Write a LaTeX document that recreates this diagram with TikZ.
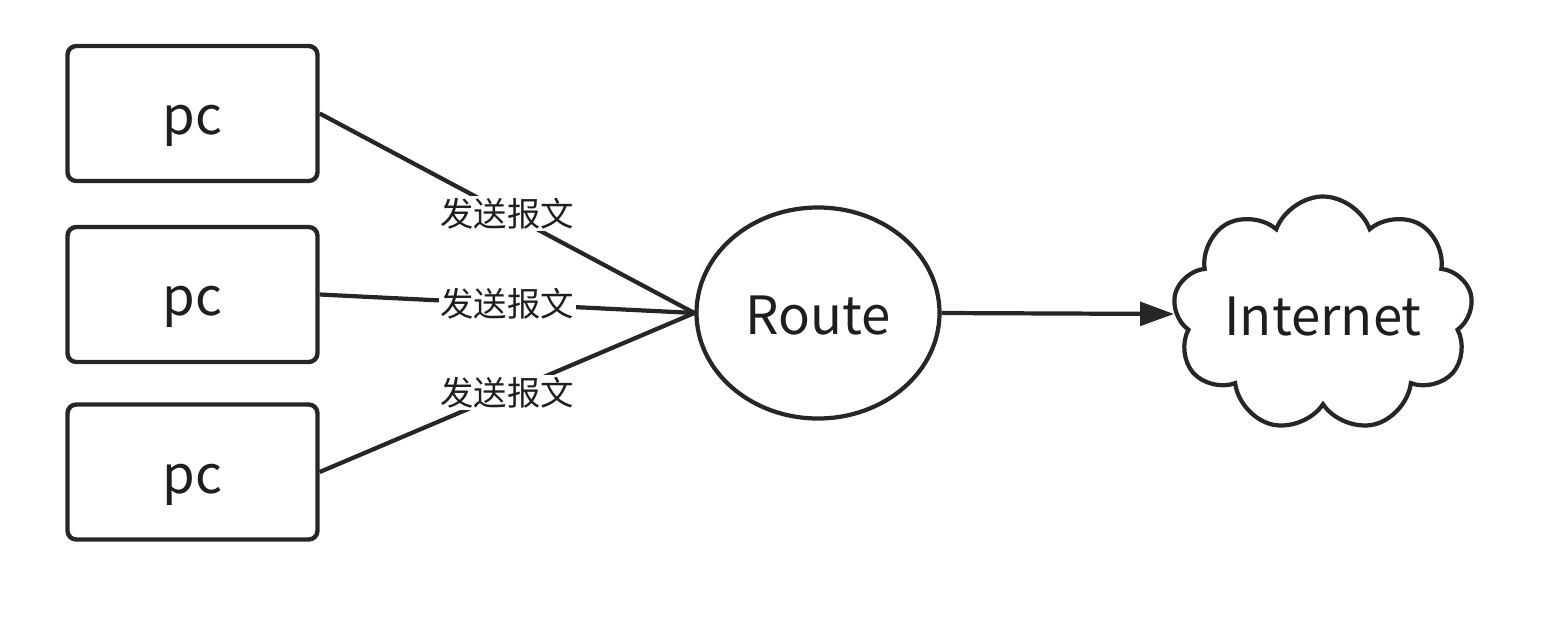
\documentclass[tikz,border=0pt]{standalone}
\usepackage{fontspec}
\setmainfont{Noto Sans CJK SC}
\usepackage{tikz}
\usetikzlibrary{arrows.meta,positioning,shapes.geometric,shapes.symbols}
\definecolor{lncol}{RGB}{38,38,38}
\definecolor{txcol}{RGB}{30,30,30}
\tikzset{
  bigtxt/.style={text=txcol, font=\fontsize{30}{33}\selectfont, text height=0.85cm, text depth=0pt},
  pcbox/.style={bigtxt, draw=lncol, line width=2.5pt, rounded corners=5pt,
                minimum width=5.0cm, minimum height=2.7cm},
  rtnode/.style={bigtxt, draw=lncol, line width=2.4pt, ellipse, inner sep=0pt,
                 minimum width=4.86cm, minimum height=4.22cm},
  netcloud/.style={bigtxt, draw=lncol, line width=2.4pt, cloud, cloud puffs=9, cloud puff arc=140,
                   cloud ignores aspect, inner sep=0pt, minimum width=6.0cm, minimum height=4.7cm},
}
\tikzset{
  linkln/.style={lncol, line width=2.4pt},
  msglab/.style={fill=white, inner sep=1pt, text=txcol, font=\fontsize{19}{21}\selectfont},
  outarr/.style={-{Triangle[length=0.68cm, width=0.47cm]}, lncol, line width=2.4pt},
}
\begin{document}
\begin{tikzpicture}
  \useasboundingbox (0,0) rectangle (30.96,-12.52);
  \node[pcbox] (pc1) at (3.85,-2.27) {pc};
  \node[pcbox] (pc2) at (3.85,-5.89) {pc};
  \node[pcbox] (pc3) at (3.85,-9.44) {pc};
  \node[rtnode] (route) at (16.36,-6.26) {Route};
  \node[netcloud] (inet) at (26.46,-6.28) {Internet};
  \draw[linkln] (pc1.east) -- node[msglab] {发送报文} (route.west);
  \draw[linkln] (pc2.east) -- node[msglab] {发送报文} (route.west);
  \draw[linkln] (pc3.east) -- node[msglab] {发送报文} (route.west);
  \draw[outarr] (route.east) -- (inet.west);
\end{tikzpicture}
\end{document}
